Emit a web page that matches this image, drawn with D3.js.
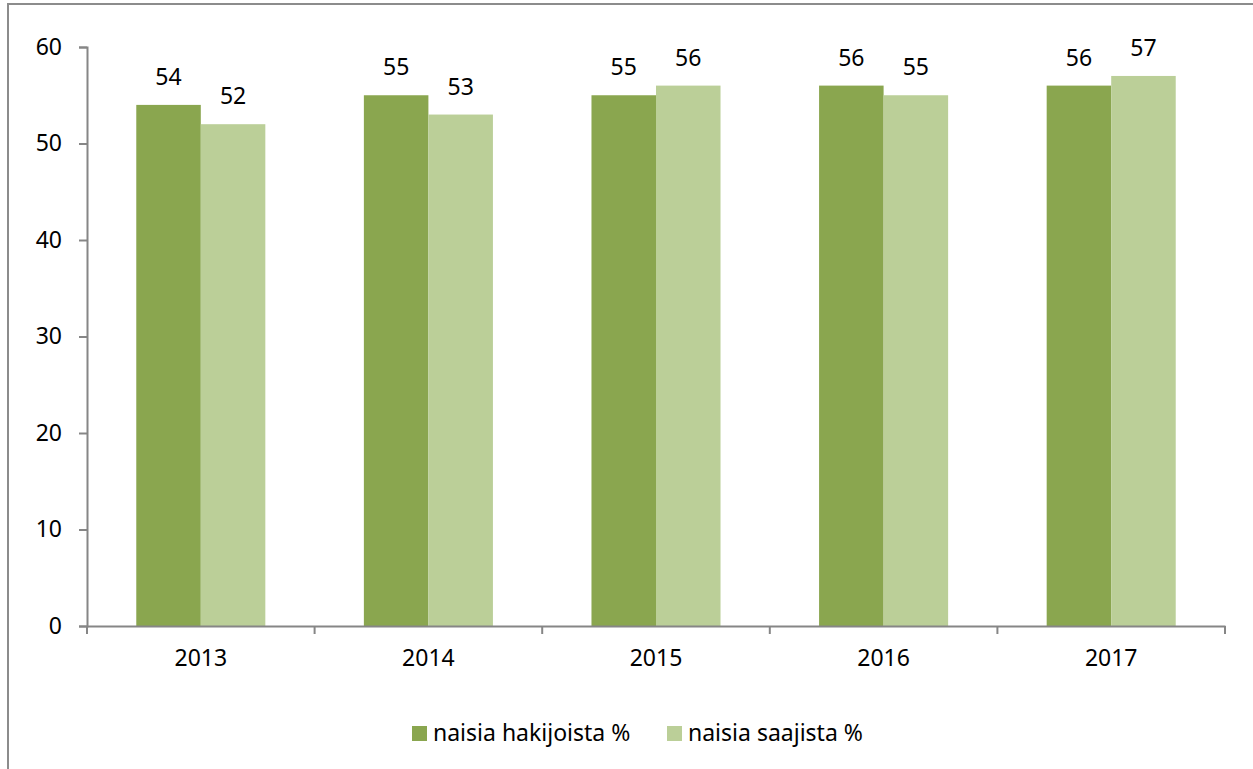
<!DOCTYPE html>
<html>
<head>
<meta charset="utf-8">
<script src="https://cdn.jsdelivr.net/npm/d3@7"></script>
<style>
  body { margin: 0; background: #fff; }
  svg text { font-family: "Noto Sans", "Open Sans", sans-serif; fill: #000; }
</style>
</head>
<body>
<div id="chart"></div>
<script>
const years = ['2013', '2014', '2015', '2016', '2017']
const hakijat = [54, 55, 55, 56, 56]
const saajat = [52, 53, 56, 55, 57]
const seriesNames = ['naisia hakijoista %', 'naisia saajista %']
const seriesColors = ['#8aa64f', '#bbcf98']
const yTicks = [0, 10, 20, 30, 40, 50, 60]

const W = 1253, H = 769
const margin = {top: 47, right: 28, bottom: 143, left: 87}
const fs = '23px'

const svg = d3.select('#chart').append('svg')
    .attr('width', W)
    .attr('height', H)

// chart frame (runs off the right and bottom edge)
svg.append('rect')
    .attr('x', 8).attr('y', 4)
    .attr('width', W + 20).attr('height', H + 20)
    .attr('fill', 'none')
    .attr('stroke', '#8c8c8c')
    .attr('stroke-width', 2)

const x = d3.scaleBand()
    .domain(years)
    .range([margin.left, W - margin.right])
    .paddingInner(0)
    .paddingOuter(0)

const y = d3.scaleLinear()
    .domain([0, 60])
    .range([H - margin.bottom, margin.top])

const inner = x.bandwidth() * 0.567
const xs = d3.scaleBand()
    .domain([0, 1])
    .range([0, inner])

const g = svg.append('g')

// y axis
const yAxis = g.append('g')
    .attr('transform', 'translate(' + margin.left + ',0)')
    .call(d3.axisLeft(y).tickValues(yTicks).tickSize(8).tickPadding(17))
yAxis.select('.domain').attr('stroke', '#868686').attr('stroke-width', 2)
yAxis.selectAll('.tick line').attr('stroke', '#868686').attr('stroke-width', 2)
yAxis.selectAll('.tick text').style('font-size', fs).attr('fill', '#000')

// bars
const data = years.map((yr, i) => ({year: yr, vals: [hakijat[i], saajat[i]]}))
const groups = g.selectAll('g.grp')
    .data(data)
    .enter().append('g')
    .attr('class', 'grp')
    .attr('transform', d => 'translate(' + (x(d.year) + (x.bandwidth() - inner) / 2) + ',0)')

groups.selectAll('rect')
    .data(d => d.vals.map((v, k) => ({v: v, k: k})))
    .enter().append('rect')
    .attr('x', d => xs(d.k))
    .attr('y', d => y(d.v))
    .attr('width', xs.bandwidth())
    .attr('height', d => y(0) - y(d.v))
    .attr('fill', d => seriesColors[d.k])

groups.selectAll('text')
    .data(d => d.vals.map((v, k) => ({v: v, k: k})))
    .enter().append('text')
    .attr('x', d => xs(d.k) + xs.bandwidth() / 2)
    .attr('y', d => y(d.v) - 20)
    .attr('text-anchor', 'middle')
    .style('font-size', fs)
    .text(d => d.v)

// x axis
const xAxis = g.append('g')
    .attr('transform', 'translate(0,' + y(0) + ')')
    .call(d3.axisBottom(x).tickSize(0).tickPadding(24))
xAxis.select('.domain').attr('stroke', '#868686').attr('stroke-width', 2)
xAxis.selectAll('.tick text').style('font-size', fs).attr('fill', '#000')

// tick marks at category boundaries
const bounds = years.map(yr => x(yr)).concat([x(years[years.length - 1]) + x.bandwidth()])
g.selectAll('line.bnd')
    .data(bounds)
    .enter().append('line')
    .attr('class', 'bnd')
    .attr('x1', d => d).attr('x2', d => d)
    .attr('y1', y(0)).attr('y2', y(0) + 8)
    .attr('stroke', '#868686')
    .attr('stroke-width', 2)

// legend
const legendX = [412, 667]
const legend = svg.selectAll('g.leg')
    .data(seriesNames)
    .enter().append('g')
    .attr('class', 'leg')
    .attr('transform', (d, i) => 'translate(' + legendX[i] + ',726)')
legend.append('rect')
    .attr('width', 15).attr('height', 15)
    .attr('fill', (d, i) => seriesColors[i])
legend.append('text')
    .attr('x', 21).attr('y', 15)
    .style('font-size', fs)
    .text(d => d)
</script>
</body>
</html>
